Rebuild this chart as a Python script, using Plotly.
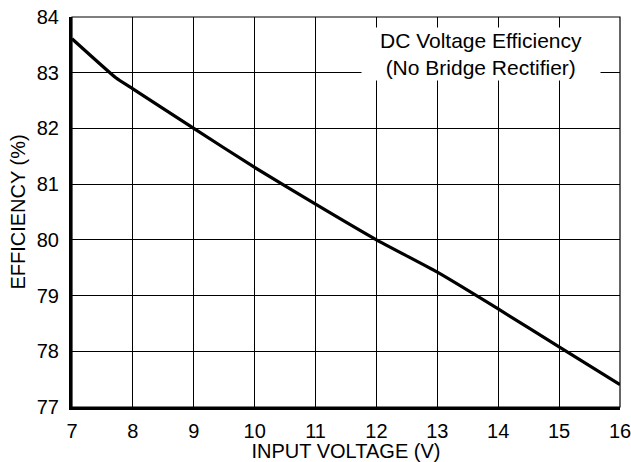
import plotly.graph_objects as go

voltage = [7, 7.72, 8, 9, 10, 11, 12, 13, 14, 15, 16]
efficiency = [83.61, 82.91, 82.71, 82.0, 81.30, 80.64, 80.0, 79.42, 78.76, 78.08, 77.4]
x_ticks = [7, 8, 9, 10, 11, 12, 13, 14, 15, 16]
y_ticks = [77, 78, 79, 80, 81, 82, 83, 84]

FONT = "Liberation Sans, Arial, sans-serif"
FS = 20

fig = go.Figure()
fig.add_trace(go.Scatter(x=voltage, y=efficiency, mode="lines",
                         line=dict(color="black", width=3.2, shape="spline", smoothing=0.4),
                         showlegend=False, hoverinfo="skip"))

fig.update_layout(
    width=631, height=462,
    margin=dict(l=72, r=11, t=17, b=55),
    paper_bgcolor="white", plot_bgcolor="white",
    font=dict(family=FONT, size=FS, color="black"),
    xaxis=dict(range=[7, 16], tickvals=x_ticks, ticks="", showgrid=True,
               gridcolor="black", gridwidth=1, zeroline=False, automargin=False,
               showline=True, linecolor="black", linewidth=3,
               ticklabelstandoff=4, ticklabeloverflow="allow",
               title=dict(text="INPUT VOLTAGE (V)", standoff=2,
                          font=dict(size=FS, family=FONT)),
               tickfont=dict(size=FS, family=FONT)),
    yaxis=dict(range=[77, 84], tickvals=y_ticks, ticks="", showgrid=True,
               gridcolor="black", gridwidth=1, zeroline=False, automargin=False,
               showline=True, linecolor="black", linewidth=3,
               ticklabelstandoff=6, ticklabeloverflow="allow",
               title=dict(text="EFFICIENCY (%)", standoff=6,
                          font=dict(size=FS, family=FONT)),
               tickfont=dict(size=FS, family=FONT)),
)

fig.add_shape(type="rect", xref="paper", yref="paper", x0=0, y0=0, x1=1, y1=1,
              line=dict(color="black", width=1.2), layer="above")

fig.add_annotation(xref="paper", yref="paper", x=0.746, y=0.905,
                   xanchor="center", yanchor="middle",
                   text="DC Voltage Efficiency<br>(No Bridge Rectifier)",
                   showarrow=False, bgcolor="white", width=236, height=50,
                   font=dict(size=21, family=FONT, color="black"),
                   align="center")

fig.write_html("out.html", config={"displayModeBar": False},
               post_script="document.body.style.margin='0';document.body.style.overflow='hidden';")
